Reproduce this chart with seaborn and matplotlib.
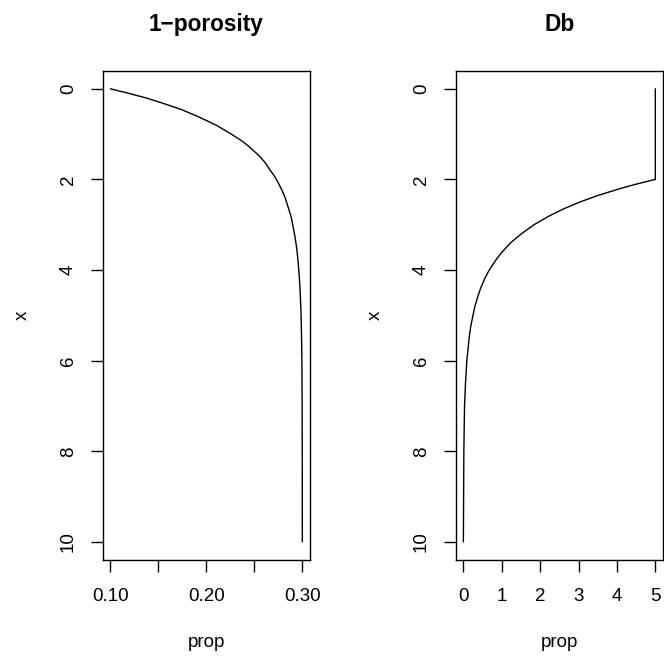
# R-style profile plots: 1-porosity and Db against depth
import numpy as np
import pandas as pd
import matplotlib
matplotlib.use("Agg")
import matplotlib.pyplot as plt
import seaborn as sns

# values
depth_por = [0.0, 0.1, 0.2, 0.3, 0.45, 0.6, 0.8, 1.0, 1.15, 1.25, 1.4, 1.5, 1.65, 1.75,
             1.9, 2.0, 2.1, 2.25, 2.4, 2.6, 2.8, 3.0, 3.25, 3.5, 3.75, 4.0, 4.25,
             4.5, 5.0, 5.5, 6.0, 7.0, 8.0, 10.0]
prop_por = [0.100, 0.119, 0.137, 0.152, 0.173, 0.190, 0.210, 0.226, 0.237, 0.243,
            0.251, 0.256, 0.262, 0.265, 0.270, 0.273, 0.2755, 0.279, 0.282, 0.285,
            0.288, 0.290, 0.2922, 0.294, 0.2953, 0.2963, 0.2971, 0.2978, 0.2987,
            0.2992, 0.2995, 0.2998, 0.2999, 0.300]

depth_db = [0.0, 2.0, 2.1, 2.2, 2.35, 2.5, 2.65, 2.8, 3.0, 3.2, 3.4, 3.6, 3.75, 3.9,
            4.05, 4.2, 4.4, 4.6, 4.8, 5.0, 5.25, 5.5, 6.0, 6.5, 7.0, 8.0, 10.0]
prop_db = [5.0, 5.0, 4.52, 4.09, 3.52, 3.03, 2.61, 2.25, 1.84, 1.51, 1.23, 1.01,
           0.87, 0.75, 0.64, 0.55, 0.45, 0.37, 0.30, 0.25, 0.19, 0.15, 0.09, 0.055,
           0.03, 0.012, 0.0]

titles = ["1\u2212porosity", "Db"]
x_ticks = [[0.10, 0.15, 0.20, 0.25, 0.30], [0, 1, 2, 3, 4, 5]]
x_ticklabels = [["0.10", "", "0.20", "", "0.30"], ["0", "1", "2", "3", "4", "5"]]
x_limits = [(0.092, 0.308), (-0.2, 5.2)]
y_ticks = [0, 2, 4, 6, 8, 10]

sns.set_style("white")
plt.rcParams['font.family'] = ['Liberation Sans', 'DejaVu Sans']
plt.rcParams['text.color'] = 'black'
plt.rcParams['axes.labelcolor'] = 'black'
plt.rcParams['xtick.color'] = 'black'
plt.rcParams['ytick.color'] = 'black'

fig = plt.figure(figsize=(6.64, 6.60), dpi=100)
axes = [fig.add_axes([0.1547, 0.1515, 0.3122, 0.7414]),
        fig.add_axes([0.6863, 0.1515, 0.3122, 0.7414])]

data = [pd.DataFrame({"prop": prop_por, "x": depth_por}),
        pd.DataFrame({"prop": prop_db, "x": depth_db})]

for i, ax in enumerate(axes):
    sns.lineplot(data=data[i], x="prop", y="x", sort=False, estimator=None,
                 orient="y", color="black", linewidth=1.0, ax=ax)
    ax.set_xlim(*x_limits[i])
    ax.set_ylim(10.4, -0.4)
    ax.set_xticks(x_ticks[i])
    ax.set_xticklabels(x_ticklabels[i])
    ax.set_yticks(y_ticks)
    ax.set_yticklabels([str(v) for v in y_ticks], rotation=90, va="center")
    ax.tick_params(direction="out", length=8.5, width=1.0, labelsize=13.5,
                   bottom=True, left=True)
    ax.tick_params(axis="x", pad=12)
    ax.tick_params(axis="y", pad=10)
    for s in ax.spines.values():
        s.set_color("black")
        s.set_linewidth(1.0)
    ax.set_title(titles[i], fontsize=16.3, fontweight="bold", y=1.095, va="center", pad=0)
    ax.set_xlabel("prop", fontsize=13.5, va="center")
    ax.xaxis.set_label_coords(0.5, -0.1696)
    ax.set_ylabel("x", fontsize=13.5, va="center")
    ax.yaxis.set_label_coords(-0.386, 0.5)

fig.savefig("out.png", dpi=100)
